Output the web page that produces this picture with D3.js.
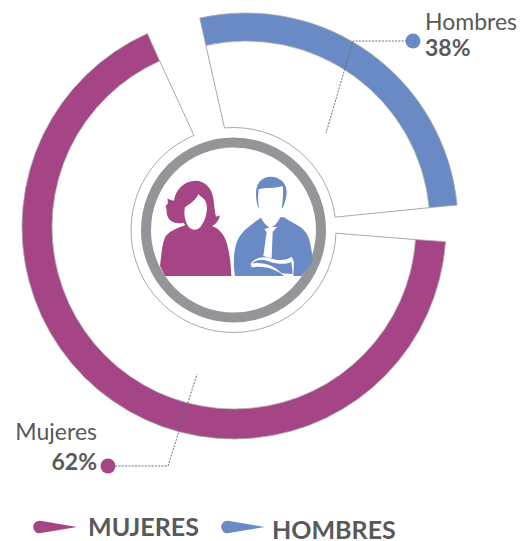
<!DOCTYPE html>
<html><head><meta charset="utf-8">
<script src="https://cdn.jsdelivr.net/npm/d3@7/dist/d3.min.js"></script>
<style>html,body{margin:0;padding:0;background:#fff}svg{display:block}text{font-family:Lato,sans-serif;fill:#58595b}</style>
</head><body><svg id="c" width="521" height="541"></svg>
<script>
const categories = ["Mujeres", "Hombres"];
const legendLabels = ["MUJERES", "HOMBRES"];
const shares = [62, 38];
// drawn extents of the bands, in percent of a full turn
const bandStart = [26.1, -3.5];
const bandEnd = [93.3, 23.5];
const hubStart = [25.5, -1.4];
const hubEnd = [93.7, 23.0];
const colors = ["#a54585", "#6a8ac6"];

const svg = d3.select("#c");
const angle = d3.scaleLinear().domain([0, 100]).range([0, 2 * Math.PI]);
const centers = [[234, 227], [246, 225]];
const hub = [233.5, 230];
const rOuter = 212, rInner = [182, 184], rHub = 102.5;
const pt = (c, r, a) => [c[0] + r * Math.sin(a), c[1] - r * Math.cos(a)];

categories.forEach((name, i) => {
  const a0 = angle(bandStart[i]), a1 = angle(bandEnd[i]);
  const h0 = angle(hubStart[i]), h1 = angle(hubEnd[i]);
  const p = d3.path();
  const s = pt(centers[i], rInner[i], a0), e = pt(centers[i], rInner[i], a1);
  const hs = pt(hub, rHub, h0);
  p.moveTo(s[0], s[1]);
  p.lineTo(hs[0], hs[1]);
  p.arc(hub[0], hub[1], rHub, h0 - Math.PI / 2, h1 - Math.PI / 2);
  p.lineTo(e[0], e[1]);
  svg.append("path").attr("d", p.toString()).attr("fill", "none").attr("stroke", "#a7a9ac").attr("stroke-width", 1);
  svg.append("path")
    .attr("transform", `translate(${centers[i]})`)
    .attr("d", d3.arc().innerRadius(rInner[i]).outerRadius(rOuter).startAngle(a0).endAngle(a1)())
    .attr("fill", colors[i]).attr("stroke", "#a7a9ac").attr("stroke-width", 0.8);
});

svg.append("circle").attr("cx", hub[0]).attr("cy", hub[1]).attr("r", 87.5)
  .attr("fill", "none").attr("stroke", "#939598").attr("stroke-width", 10);

// silhouettes
const icons = svg.append("g").attr("transform", "translate(130,130) scale(0.3333)");
icons.append("path").attr("fill", colors[0]).attr("d",
 "M160,278C145,282 122,280 114,262C108,248 112,238 106,226C112,228 116,218 112,206C120,208 126,212 132,212C136,178 165,152 196,152C226,152 246,176 250,205C253,225 254,245 258,260L270,256C266,272 258,284 246,288C270,296 284,316 292,345C300,375 303,410 304,438L105,438L90,408C94,375 96,345 104,325C112,305 140,295 166,285Z");
icons.append("path").attr("fill", "#fff").attr("d",
 "M165,232C178,222 196,212 206,192C214,206 226,200 230,226C233,250 224,275 212,290C202,302 186,302 176,290C166,278 160,252 165,232Z");
icons.append("path").attr("fill", colors[1]).attr("d",
 "M378,190C378,160 395,140 422,140C450,140 472,160 470,190C469,205 464,222 458,235L385,235C380,220 378,205 378,190Z");
icons.append("path").attr("fill", colors[1]).attr("d",
 "M395,262L462,262C485,280 522,288 535,320C543,345 547,370 548,395L515,438L315,438C310,410 310,370 318,345C325,315 345,295 395,262Z");
icons.append("path").attr("fill", "#fff").attr("d",
 "M386,178C402,172 440,176 458,168C462,190 456,235 452,258C444,280 428,294 420,292C410,290 396,272 391,258C386,235 382,205 386,178Z");
icons.append("path").attr("fill", "#fff").attr("d",
 "M403,298L418,292L442,290L428,306L425,385L400,378L410,306Z");
icons.append("path").attr("fill", "#fff").attr("d",
 "M362,402C375,382 398,378 425,386C445,392 470,392 485,380L492,396L490,438L462,438C440,420 410,406 365,412Z");
icons.append("path").attr("fill", colors[1]).attr("d",
 "M366,400C400,395 430,405 455,430L488,432L484,396C465,405 440,402 420,395C400,388 380,388 366,400Z");

// leaders
const leaders = [[[102, 466], [168, 466], [197, 374]], [[407, 41], [353, 41], [326, 133]]];
leaders.forEach(l => svg.append("path").attr("d", d3.line()(l)).attr("fill", "none")
  .attr("stroke", "#6d6e71").attr("stroke-width", 1).attr("stroke-dasharray", "2,1.3"));
svg.append("circle").attr("cx", 108).attr("cy", 466).attr("r", 7.5).attr("fill", colors[0]);
svg.append("circle").attr("cx", 413).attr("cy", 41).attr("r", 7.5).attr("fill", colors[1]);

// labels
svg.append("text").attr("x", 97).attr("y", 440).attr("text-anchor", "end").attr("font-size", 23).text(categories[0]);
svg.append("text").attr("x", 97).attr("y", 470).attr("text-anchor", "end").attr("font-size", 23).attr("font-weight", 700).text(shares[0] + "%");
svg.append("text").attr("x", 425).attr("y", 30).attr("font-size", 23).text(categories[1]);
svg.append("text").attr("x", 425).attr("y", 56).attr("font-size", 23).attr("font-weight", 700).text(shares[1] + "%");

// legend
const lgX = [33, 221], lgY = [527, 527], txX = [88, 272], txY = [536, 539];
legendLabels.forEach((t, i) => {
  const p = d3.path();
  p.moveTo(lgX[i] + 44, lgY[i]);
  p.lineTo(lgX[i] + 7, lgY[i] - 6.3);
  p.arc(lgX[i] + 6.5, lgY[i], 6.3, -Math.PI / 2, Math.PI / 2, true);
  p.closePath();
  svg.append("path").attr("d", p.toString()).attr("fill", colors[i]);
  svg.append("text").attr("x", txX[i]).attr("y", txY[i]).attr("font-size", 25).attr("font-weight", 700).text(t);
});
</script></body></html>
